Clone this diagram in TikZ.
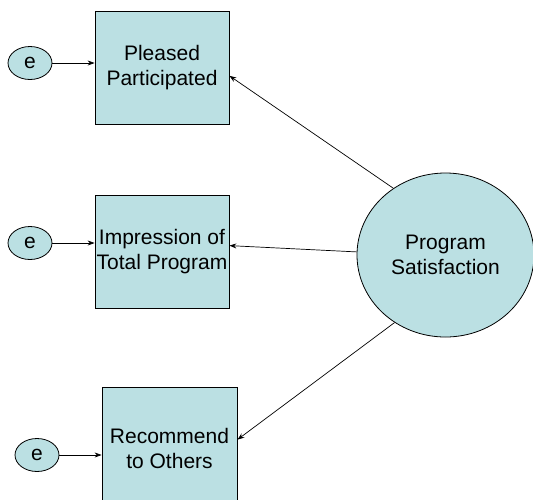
\documentclass[tikz,border=0pt]{standalone}
\usepackage{fontspec}
\setmainfont{Liberation Sans}
\usetikzlibrary{shapes.geometric,arrows.meta}
\definecolor{fillc}{RGB}{187,224,227}
\begin{document}
\begin{tikzpicture}[x=1pt,y=-1pt,
  every node/.style={font=\fontsize{21}{25}\selectfont, inner sep=0pt},
  box/.style={draw=black, line width=0.8pt, fill=fillc, minimum width=134pt, align=center},
  err/.style={draw=black, line width=0.8pt, fill=fillc, ellipse, minimum width=44pt, minimum height=33pt},
  latent/.style={draw=black, line width=0.8pt, fill=fillc, ellipse, minimum width=177pt, minimum height=164pt, align=center},
  conn/.style={line width=0.7pt, -{Stealth[length=7pt,width=5pt]}}]
\useasboundingbox (0,0) rectangle (533,499);
\clip (0,0) rectangle (533,499);
\node[box, minimum height=113pt] (b1) at (162,67.5) {Pleased\\Participated};
\node[box, minimum height=113pt] (b2) at (162,251.5) {Impression of\\Total Program};
\node[box, minimum height=122pt, minimum width=135pt] (b3) at (169.5,448) {Recommend\\to Others};
\node[err] (e1) at (30,63) {e};
\node[err] (e2) at (30,243) {e};
\node[err] (e3) at (37,455) {e};
\node[latent] (ps) at (445.5,255) {Program\\Satisfaction};
\draw[conn] (e1) -- (e1 -| b1.west);
\draw[conn] (e2) -- (e2 -| b2.west);
\draw[conn] (e3) -- (e3 -| b3.west);
\draw[conn] (ps.128) -- (b1.-7);
\draw[conn] (ps.178) -- (b2.5);
\draw[conn] (ps.233) -- (b3.7);
\end{tikzpicture}
\end{document}
